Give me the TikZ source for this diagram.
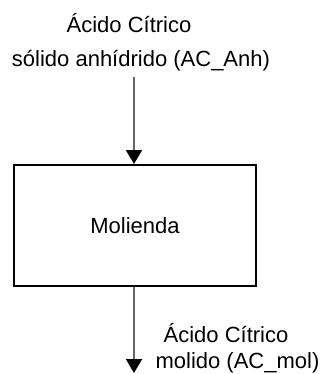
\documentclass[tikz,border=0pt]{standalone}
\usepackage{fontspec}
\setmainfont{Liberation Sans}
\usetikzlibrary{arrows.meta}
\begin{document}
\begin{tikzpicture}[x=1pt,y=-1pt,
  font=\fontsize{22}{26}\selectfont,
  lbl/.style={inner sep=0pt, anchor=base},
  flow/.style={draw=black!60, line width=2pt, -{Triangle[black,width=16pt,length=14pt]}},
  proc/.style={draw=black, line width=2pt, minimum width=242pt, minimum height=121pt, inner sep=0pt}]
\useasboundingbox (0,0) rectangle (323,374);
\node[proc] (mol) at (135,225.5) {Molienda};
\node[lbl] (in1) at (129,33) {Ácido Cítrico};
\node[lbl] (in2) at (141,67) {sólido anhídrido (AC\_Anh)};
\node[lbl] (out1) at (226,342) {Ácido Cítrico};
\node[lbl] (out2) at (237.5,368) {molido (AC\_mol)};
\coordinate (s) at (134,77);
\coordinate (e) at (134,373);
\draw[flow] (s) -- (s |- mol.north);
\draw[flow] (e |- mol.south) -- (e);
\end{tikzpicture}
\end{document}
